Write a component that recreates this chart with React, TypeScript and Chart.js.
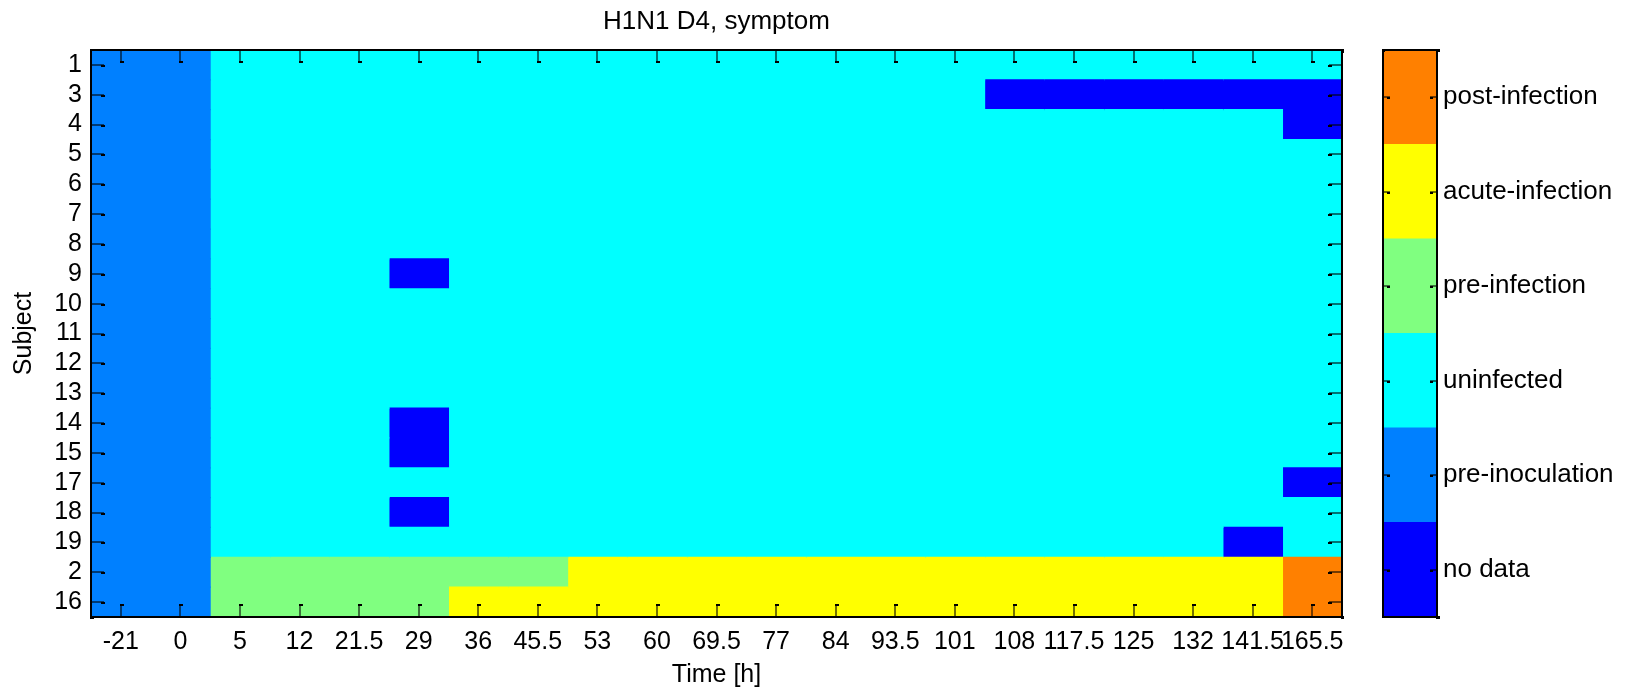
import React, { useEffect, useRef } from 'react';
import { Chart, registerables } from 'chart.js';

Chart.register(...registerables);

const chartTitle = 'H1N1 D4, symptom';
const xTitle = 'Time [h]';
const yTitle = 'Subject';

const subjects = ['1', '3', '4', '5', '6', '7', '8', '9', '10', '11', '12', '13', '14', '15', '17', '18', '19', '2', '16'];
const times = ['-21', '0', '5', '12', '21.5', '29', '36', '45.5', '53', '60', '69.5', '77', '84', '93.5', '101', '108', '117.5', '125', '132', '141.5', '165.5'];
const stateNames = ['no data', 'pre-inoculation', 'uninfected', 'pre-infection', 'acute-infection', 'post-infection'];
const stateColors = ['#0000FF', '#0080FF', '#00FFFF', '#80FF80', '#FFFF00', '#FF8000'];

// state index (into stateNames) for each subject row, one entry per time column
const states: number[][] = [
  [1, 1, 2, 2, 2, 2, 2, 2, 2, 2, 2, 2, 2, 2, 2, 2, 2, 2, 2, 2, 2], // 1
  [1, 1, 2, 2, 2, 2, 2, 2, 2, 2, 2, 2, 2, 2, 2, 0, 0, 0, 0, 0, 0], // 3
  [1, 1, 2, 2, 2, 2, 2, 2, 2, 2, 2, 2, 2, 2, 2, 2, 2, 2, 2, 2, 0], // 4
  [1, 1, 2, 2, 2, 2, 2, 2, 2, 2, 2, 2, 2, 2, 2, 2, 2, 2, 2, 2, 2], // 5
  [1, 1, 2, 2, 2, 2, 2, 2, 2, 2, 2, 2, 2, 2, 2, 2, 2, 2, 2, 2, 2], // 6
  [1, 1, 2, 2, 2, 2, 2, 2, 2, 2, 2, 2, 2, 2, 2, 2, 2, 2, 2, 2, 2], // 7
  [1, 1, 2, 2, 2, 2, 2, 2, 2, 2, 2, 2, 2, 2, 2, 2, 2, 2, 2, 2, 2], // 8
  [1, 1, 2, 2, 2, 0, 2, 2, 2, 2, 2, 2, 2, 2, 2, 2, 2, 2, 2, 2, 2], // 9
  [1, 1, 2, 2, 2, 2, 2, 2, 2, 2, 2, 2, 2, 2, 2, 2, 2, 2, 2, 2, 2], // 10
  [1, 1, 2, 2, 2, 2, 2, 2, 2, 2, 2, 2, 2, 2, 2, 2, 2, 2, 2, 2, 2], // 11
  [1, 1, 2, 2, 2, 2, 2, 2, 2, 2, 2, 2, 2, 2, 2, 2, 2, 2, 2, 2, 2], // 12
  [1, 1, 2, 2, 2, 2, 2, 2, 2, 2, 2, 2, 2, 2, 2, 2, 2, 2, 2, 2, 2], // 13
  [1, 1, 2, 2, 2, 0, 2, 2, 2, 2, 2, 2, 2, 2, 2, 2, 2, 2, 2, 2, 2], // 14
  [1, 1, 2, 2, 2, 0, 2, 2, 2, 2, 2, 2, 2, 2, 2, 2, 2, 2, 2, 2, 2], // 15
  [1, 1, 2, 2, 2, 2, 2, 2, 2, 2, 2, 2, 2, 2, 2, 2, 2, 2, 2, 2, 0], // 17
  [1, 1, 2, 2, 2, 0, 2, 2, 2, 2, 2, 2, 2, 2, 2, 2, 2, 2, 2, 2, 2], // 18
  [1, 1, 2, 2, 2, 2, 2, 2, 2, 2, 2, 2, 2, 2, 2, 2, 2, 2, 2, 0, 2], // 19
  [1, 1, 3, 3, 3, 3, 3, 3, 4, 4, 4, 4, 4, 4, 4, 4, 4, 4, 4, 4, 5], // 2
  [1, 1, 3, 3, 3, 3, 4, 4, 4, 4, 4, 4, 4, 4, 4, 4, 4, 4, 4, 4, 5], // 16
];

const FAMILY = '"Liberation Sans", Arial, Helvetica, sans-serif';
const tickFont = { family: FAMILY, size: 25, lineHeight: 1.2 };

const MAIN_W = 1433;
const H = 690;
const CB_LEFT = 1370;
const CB_W = 261;

const TICK_DARK = 'rgba(0,0,0,0.55)';

const mainAxesPlugin = {
  id: 'mainAxes',
  afterDraw(chart: any) {
    const { ctx, chartArea: a, scales } = chart;
    const xs = scales.x;
    const ys = scales.y;
    const L = 13;
    ctx.save();
    ctx.lineWidth = 2;
    ctx.strokeStyle = TICK_DARK;
    ctx.fillStyle = '#000';
    xs.ticks.forEach((t: any) => {
      const px = Math.round(xs.getPixelForValue(t.value));
      ctx.beginPath();
      ctx.moveTo(px, a.top);
      ctx.lineTo(px, a.top + L);
      ctx.moveTo(px, a.bottom);
      ctx.lineTo(px, a.bottom - L);
      ctx.stroke();
      ctx.fillRect(px - 1, a.top + L - 2, 4, 2);
      ctx.fillRect(px - 1, a.bottom - L, 4, 2);
    });
    ys.ticks.forEach((_t: any, i: number) => {
      const py = Math.round(ys.getPixelForTick(i));
      ctx.beginPath();
      ctx.moveTo(a.left, py);
      ctx.lineTo(a.left + L, py);
      ctx.moveTo(a.right, py);
      ctx.lineTo(a.right - L, py);
      ctx.stroke();
      ctx.fillRect(a.left + L - 3, py, 4, 2);
      ctx.fillRect(a.right - L - 1, py, 4, 2);
    });
    ctx.strokeStyle = '#000';
    ctx.lineWidth = 2;
    ctx.strokeRect(a.left, a.top, a.right - a.left, a.bottom - a.top);
    ctx.fillRect(a.left - 1, a.bottom - 1, 4, 3);
    ctx.fillRect(a.right - 1, a.top - 1, 3, 4);
    ctx.fillRect(a.right - 1, a.bottom - 1, 3, 3);
    ctx.restore();
  },
};

const colorbarPlugin = {
  id: 'colorbarAxes',
  afterDraw(chart: any) {
    const { ctx, chartArea: a, scales } = chart;
    const ys = scales.y;
    const L = 7;
    ctx.save();
    ctx.lineWidth = 2;
    ctx.strokeStyle = TICK_DARK;
    ctx.fillStyle = '#000';
    ys.ticks.forEach((t: any) => {
      const py = Math.round(ys.getPixelForValue(t.value));
      ctx.beginPath();
      ctx.moveTo(a.left, py);
      ctx.lineTo(a.left + L, py);
      ctx.moveTo(a.right, py);
      ctx.lineTo(a.right - L, py);
      ctx.stroke();
      ctx.fillRect(a.left + L - 3, py, 3, 2);
      ctx.fillRect(a.right - L, py, 3, 2);
    });
    ctx.strokeStyle = '#000';
    ctx.strokeRect(a.left, a.top, a.right - a.left, a.bottom - a.top);
    ctx.fillRect(a.left - 1, a.top - 1, 3, 3);
    ctx.fillRect(a.right - 1, a.top - 1, 4, 3);
    ctx.fillRect(a.right - 1, a.bottom - 1, 4, 3);
    ctx.restore();
  },
};

export default function App() {
  const mainRef = useRef<HTMLCanvasElement | null>(null);
  const cbRef = useRef<HTMLCanvasElement | null>(null);

  useEffect(() => {
    if (!mainRef.current || !cbRef.current) return;
    Chart.defaults.color = '#000';

    const main = new Chart(mainRef.current, {
      type: 'bar',
      data: {
        labels: subjects,
        datasets: times.map((t, j) => ({
          label: t,
          xAxisID: 'x',
          yAxisID: 'y',
          data: subjects.map(() => 1),
          backgroundColor: subjects.map((_s, i) => stateColors[states[i][j]]),
          borderWidth: 0,
          inflateAmount: 0.6,
          barPercentage: 1,
          categoryPercentage: 1,
        })),
      },
      options: {
        indexAxis: 'y',
        responsive: false,
        animation: false,
        devicePixelRatio: 1,
        events: [],
        layout: { padding: 0 },
        plugins: {
          legend: { display: false },
          tooltip: { enabled: false },
          title: {
            display: true,
            text: chartTitle,
            color: '#000',
            font: { family: FAMILY, size: 26, weight: 'normal', lineHeight: 1.2 },
            padding: { top: 6, bottom: 12.8 },
          },
        },
        scales: {
          x: {
            type: 'linear',
            position: 'bottom',
            stacked: true,
            min: 0,
            max: times.length,
            afterBuildTicks: (s: any) => {
              s.ticks = times.map((_t, j) => ({ value: j + 0.5 }));
            },
            afterFit: (s: any) => {
              s.height = H - 617;
            },
            ticks: {
              autoSkip: false,
              maxRotation: 0,
              minRotation: 0,
              padding: 10,
              color: '#000',
              font: tickFont,
              callback: (_v: any, i: number) => times[i],
            },
            grid: { display: false, drawTicks: false },
            border: { display: false },
            title: {
              display: true,
              text: xTitle,
              color: '#000',
              font: tickFont,
              padding: { top: 0, bottom: 0 },
            },
          },
          y: {
            type: 'category',
            position: 'left',
            stacked: true,
            offset: true,
            afterFit: (s: any) => {
              s.width = 91;
            },
            ticks: {
              autoSkip: false,
              padding: 9,
              color: '#000',
              font: tickFont,
            },
            grid: { display: false, drawTicks: false },
            border: { display: false },
            title: {
              display: true,
              text: yTitle,
              color: '#000',
              font: tickFont,
              padding: { top: 9, bottom: 0 },
            },
          },
          yRight: {
            type: 'linear',
            position: 'right',
            display: true,
            min: 0,
            max: 1,
            afterFit: (s: any) => {
              s.width = 91;
            },
            ticks: { display: false },
            grid: { display: false, drawTicks: false },
            border: { display: false },
          },
        },
      } as any,
      plugins: [mainAxesPlugin],
    });

    const cb = new Chart(cbRef.current, {
      type: 'bar',
      data: {
        labels: ['colorbar'],
        datasets: stateNames.map((n, k) => ({
          label: n,
          data: [1],
          backgroundColor: stateColors[k],
          borderWidth: 0,
          inflateAmount: 0.6,
          barPercentage: 1,
          categoryPercentage: 1,
        })),
      },
      options: {
        responsive: false,
        animation: false,
        devicePixelRatio: 1,
        events: [],
        layout: { padding: { left: 13, top: 50, bottom: H - 617, right: 0 } },
        plugins: {
          legend: { display: false },
          tooltip: { enabled: false },
          title: { display: false },
        },
        scales: {
          x: { display: false, stacked: true },
          y: {
            type: 'linear',
            position: 'right',
            stacked: true,
            min: 0,
            max: stateNames.length,
            afterBuildTicks: (s: any) => {
              s.ticks = stateNames.map((_n, k) => ({ value: k + 0.5 }));
            },
            afterFit: (s: any) => {
              s.width = CB_W - 67;
            },
            ticks: {
              autoSkip: false,
              padding: 6,
              color: '#000',
              font: { family: FAMILY, size: 26, lineHeight: 1.2 },
              callback: (_v: any, i: number) => stateNames[i],
            },
            grid: { display: false, drawTicks: false },
            border: { display: false },
          },
        },
      } as any,
      plugins: [colorbarPlugin],
    });

    return () => {
      main.destroy();
      cb.destroy();
    };
  }, []);

  return (
    <div style={{ position: 'absolute', left: 0, top: 0, width: 1631, height: H, background: '#fff', overflow: 'hidden' }}>
      <canvas
        ref={mainRef}
        width={MAIN_W}
        height={H}
        style={{ position: 'absolute', left: 0, top: 0, width: MAIN_W, height: H, display: 'block' }}
      />
      <canvas
        ref={cbRef}
        width={CB_W}
        height={H}
        style={{ position: 'absolute', left: CB_LEFT, top: 0, width: CB_W, height: H, display: 'block' }}
      />
    </div>
  );
}
